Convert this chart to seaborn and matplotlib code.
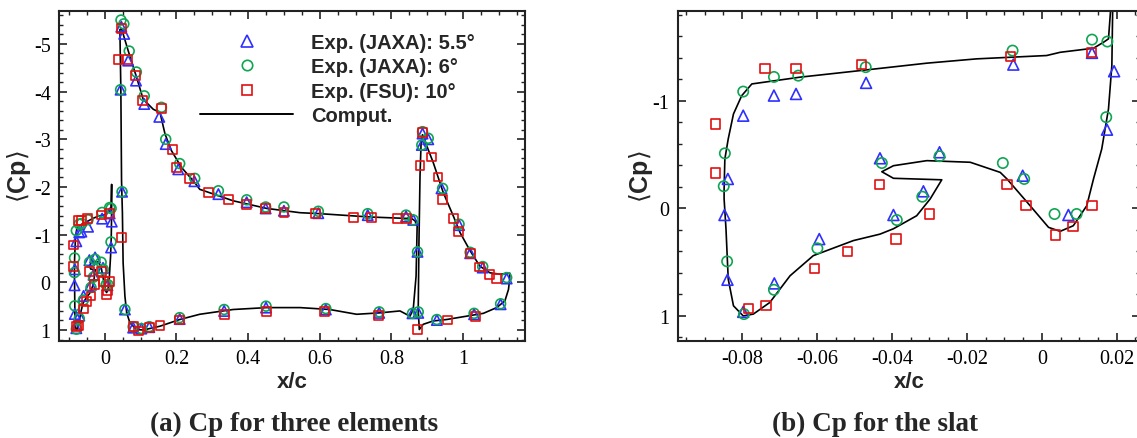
import numpy as np
import pandas as pd
import matplotlib
matplotlib.use("Agg")
import matplotlib.pyplot as plt
import seaborn as sns
from matplotlib.lines import Line2D
from matplotlib.ticker import MultipleLocator, FixedLocator, FixedFormatter

# ---------------- data ----------------
# Slat (shared by both panels)
fsu10_slat_x = [-0.0870, -0.0870, -0.0739, -0.0656, -0.0481, -0.0083, 0.0132, -0.0434, -0.0093, -0.0300,
                -0.0389, -0.0042, 0.0036, 0.0083, 0.0134, -0.0519, -0.0607, -0.0736, -0.0782]
fsu10_slat_cp = [-0.784, -0.328, -1.297, -1.297, -1.333, -1.414, -1.445, -0.220, -0.220, 0.053,
                 0.286, -0.024, 0.248, 0.171, -0.024, 0.404, 0.558, 0.900, 0.930]
jaxa6_slat_x = [-0.0846, -0.0849, -0.0797, -0.0715, -0.0650, -0.0470, -0.0078, 0.0134, 0.0175, 0.0172,
                -0.0104, -0.0047, -0.0273, -0.0427, -0.0319, -0.0387, 0.0034, 0.0093, -0.0599, -0.0715,
                -0.0795, -0.0840]
jaxa6_slat_cp = [-0.511, -0.205, -1.085, -1.221, -1.233, -1.312, -1.466, -1.568, -1.550, -0.847,
                 -0.421, -0.273, -0.484, -0.421, -0.108, 0.109, 0.053, 0.053, 0.372, 0.757,
                 0.983, 0.493]
jaxa55_slat_x = [-0.0797, -0.0715, -0.0656, -0.0469, -0.0838, -0.0076, 0.0134, 0.0193, 0.0174, -0.0051,
                 -0.0273, -0.0432, -0.0316, -0.0396, 0.0071, -0.0847, -0.0839, -0.0714, -0.0594, -0.0797]
jaxa55_slat_cp = [-0.861, -1.048, -1.063, -1.166, -0.273, -1.336, -1.445, -1.274, -0.731, -0.303,
                  -0.521, -0.465, -0.158, 0.062, 0.062, 0.062, 0.664, 0.698, 0.286, 0.962]

# Main element + flap
jaxa55_mf_x = [0.046, 0.054, 0.065, 0.087, 0.110, 0.152, 0.170, 0.205, 0.250, 0.317,
               0.396, 0.449, 0.500, 0.596, 0.734, 0.841, 0.861, 0.044, 0.048, 0.873, 0.859,
               0.056, 0.079, 0.102, 0.124, 0.209, 0.333, 0.450, 0.617, 0.766,
               0.887, 0.903, 0.885, 0.940, 0.989, 1.020, 1.055, 1.122, 1.105, 1.031, 0.927, 0.875]
jaxa55_mf_cp = [-5.36, -5.21, -4.65, -4.23, -3.74, -3.47, -2.90, -2.37, -2.12, -1.85,
                -1.68, -1.55, -1.50, -1.45, -1.41, -1.38, -1.31, -4.04, -1.90, -0.64, 0.65,
                0.57, 0.95, 0.97, 0.94, 0.77, 0.60, 0.53, 0.57, 0.64,
                -3.12, -3.00, -2.88, -1.97, -1.20, -0.61, -0.31, -0.08, 0.46, 0.67, 0.79, 0.64]
jaxa6_mf_x = [0.045, 0.053, 0.068, 0.088, 0.110, 0.158, 0.170, 0.209, 0.251, 0.317,
              0.396, 0.449, 0.500, 0.596, 0.734, 0.841, 0.861, 0.044, 0.048, 0.873, 0.859,
              0.056, 0.079, 0.102, 0.124, 0.209, 0.333, 0.450, 0.617, 0.766,
              0.887, 0.903, 0.885, 0.943, 0.989, 1.020, 1.055, 1.122, 1.105, 1.031, 0.927, 0.875]
jaxa6_mf_cp = [-5.50, -5.42, -4.85, -4.41, -3.91, -3.67, -3.00, -2.49, -2.18, -1.92,
               -1.73, -1.58, -1.58, -1.49, -1.44, -1.41, -1.31, -4.04, -1.90, -0.64, 0.65,
               0.57, 0.93, 0.97, 0.93, 0.74, 0.57, 0.50, 0.55, 0.62,
               -3.16, -3.02, -2.88, -1.97, -1.22, -0.63, -0.33, -0.10, 0.45, 0.65, 0.78, 0.62]
fsu10_mf_x = [0.047, 0.037, 0.063, 0.086, 0.105, 0.158, 0.189, 0.200, 0.237, 0.289,
              0.345, 0.396, 0.449, 0.500, 0.589, 0.694, 0.745, 0.817, 0.843, 0.047,
              0.079, 0.093, 0.124, 0.154, 0.209, 0.333, 0.452, 0.613, 0.763,
              0.887, 0.880, 0.911, 0.930, 0.943, 0.973, 0.987, 1.020, 1.045, 1.073, 1.094,
              1.036, 0.957, 0.872]
fsu10_mf_cp = [-5.32, -4.68, -4.68, -4.34, -3.82, -3.65, -2.79, -2.41, -2.18, -1.88,
               -1.74, -1.64, -1.55, -1.46, -1.44, -1.36, -1.36, -1.34, -1.34, -0.94,
               0.93, 1.02, 0.95, 0.90, 0.79, 0.67, 0.62, 0.62, 0.69,
               -3.14, -2.45, -2.63, -2.21, -1.74, -1.34, -1.06, -0.61, -0.32, -0.17, -0.08,
               0.71, 0.79, 0.99]

# Computation (closed contours)
comp_slat_x = [0.0188, 0.0178, 0.0165, 0.0138, 0.0049, 0.0013, -0.0174, -0.0307, -0.0485, -0.0645,
               -0.0774, -0.0801, -0.0823, -0.0837, -0.0846, -0.0848, -0.0848, -0.0843, -0.0837, -0.0823,
               -0.0797, -0.0770, -0.0726, -0.0672, -0.0610, -0.0503, -0.0432, -0.0396, -0.0334, -0.0298,
               -0.0267, -0.0396, -0.0427, -0.0396, -0.0307, -0.0191, -0.0111, -0.0093, -0.0040, 0.0018,
               0.0049, 0.0084, 0.0120, 0.0129, 0.0138, 0.0160, 0.0178, 0.0187, 0.0190]
comp_slat_cp = [-2.05, -1.575, -1.544, -1.488, -1.45, -1.42, -1.389, -1.349, -1.28, -1.219,
                -1.156, -1.047, -0.877, -0.645, -0.459, -0.18, -0.087, 0.19, 0.658, 0.906,
                1.0, 0.983, 0.875, 0.627, 0.44, 0.30, 0.24, 0.19, 0.069, -0.087,
                -0.265, -0.279, -0.34, -0.396, -0.443, -0.428, -0.334, -0.273, -0.06, 0.177,
                0.214, 0.162, -0.024, -0.149, -0.273, -0.552, -0.924, -1.327, -2.05]
comp_main_x = [0.061, 0.070, 0.0885, 0.107, 0.154, 0.209, 0.265, 0.358, 0.452, 0.545,
               0.628, 0.703, 0.768, 0.824, 0.852, 0.861, 0.869, 0.872, 0.866, 0.852,
               0.843, 0.740, 0.600, 0.545, 0.452, 0.358, 0.265, 0.251, 0.214, 0.186,
               0.168, 0.154, 0.135, 0.107, 0.0885, 0.065, 0.0466, 0.042, 0.0447, 0.0466,
               0.049, 0.051, 0.056, 0.061]
comp_main_cp = [0.64, 0.85, 0.99, 1.0, 0.92, 0.78, 0.67, 0.57, 0.53, 0.53,
                0.57, 0.67, 0.64, 0.60, 0.71, 0.57, -0.13, -1.18, -1.29, -1.36,
                -1.34, -1.37, -1.44, -1.46, -1.55, -1.71, -1.95, -2.09, -2.41, -2.76,
                -3.11, -3.56, -3.63, -3.84, -4.30, -4.86, -5.32, -5.30, -4.02, -2.13,
                -1.46, -0.41, 0.29, 0.64]
comp_flap_x = [0.887, 0.917, 0.945, 0.973, 0.992, 1.020, 1.047, 1.075, 1.103, 1.131,
               1.130, 1.127, 1.117, 1.094, 1.057, 1.010, 0.954, 0.917, 0.889, 0.878,
               0.875, 0.877, 0.880, 0.883, 0.887]
comp_flap_cp = [-3.09, -2.51, -1.88, -1.39, -1.04, -0.66, -0.34, -0.20, -0.17, -0.19,
                -0.05, 0.15, 0.39, 0.53, 0.65, 0.71, 0.78, 0.81, 0.88, 0.99,
                0.57, -0.83, -2.23, -2.93, -3.09]

legend_labels = ["Exp. (JAXA): 5.5°", "Exp. (JAXA): 6°", "Exp. (FSU): 10°", "Comput."]
left_xticks = [0, 0.2, 0.4, 0.6, 0.8, 1]
left_xticklabels = ["0", "0.2", "0.4", "0.6", "0.8", "1"]
left_yticks = [-5, -4, -3, -2, -1, 0, 1]
left_yticklabels = ["-5", "-4", "-3", "-2", "-1", "0", "1"]
right_xticks = [-0.08, -0.06, -0.04, -0.02, 0, 0.02]
right_xticklabels = ["-0.08", "-0.06", "-0.04", "-0.02", "0", "0.02"]
right_yticks = [-1, 0, 1]
right_yticklabels = ["-1", "0", "1"]
captions = ["(a) Cp for three elements", "(b) Cp for the slat"]

# ---------------- style ----------------
sns.set_theme(style="ticks")
plt.rcParams["font.family"] = ["Liberation Sans", "DejaVu Sans"]
plt.rcParams["axes.unicode_minus"] = False
plt.rcParams["axes.edgecolor"] = "#222222"
plt.rcParams["axes.linewidth"] = 1.5

C_TRI = "#2f2fff"
C_CIR = "#0fa552"
C_SQR = "#e01010"

fig = plt.figure(figsize=(11.37, 4.39), dpi=100)
axL = fig.add_axes([0.0519, 0.2210, 0.4098, 0.7517])
axR = fig.add_axes([0.5960, 0.2210, 0.4066, 0.7517])


def scat(ax, x, y, marker, color, s):
    sns.scatterplot(x=x, y=y, marker=marker, s=s, facecolor="none", edgecolor=color,
                    linewidth=1.2, ax=ax, zorder=3)


def comp(ax, x, y):
    sns.lineplot(x=x, y=y, sort=False, estimator=None, color="black", linewidth=1.2,
                 ax=ax, zorder=2)


# left panel
for cx, cy in [(comp_slat_x, comp_slat_cp), (comp_main_x, comp_main_cp), (comp_flap_x, comp_flap_cp)]:
    comp(axL, cx, cy)
scat(axL, jaxa55_slat_x + jaxa55_mf_x, jaxa55_slat_cp + jaxa55_mf_cp, "^", C_TRI, 56)
scat(axL, jaxa6_slat_x + jaxa6_mf_x, jaxa6_slat_cp + jaxa6_mf_cp, "o", C_CIR, 50)
scat(axL, fsu10_slat_x + fsu10_mf_x, fsu10_slat_cp + fsu10_mf_cp, "s", C_SQR, 40)

# right panel
comp(axR, comp_slat_x, comp_slat_cp)
scat(axR, jaxa55_slat_x, jaxa55_slat_cp, "^", C_TRI, 62)
scat(axR, jaxa6_slat_x, jaxa6_slat_cp, "o", C_CIR, 55)
scat(axR, fsu10_slat_x, fsu10_slat_cp, "s", C_SQR, 44)

axL.set_xlim(-0.128, 1.173)
axL.set_ylim(1.23, -5.69)
axR.set_xlim(-0.0972, 0.0262)
axR.set_ylim(1.233, -1.834)

for ax, xt, xtl, yt, ytl, xmin, ymin in [
    (axL, left_xticks, left_xticklabels, left_yticks, left_yticklabels, 0.05, 0.2),
    (axR, right_xticks, right_xticklabels, right_yticks, right_yticklabels, 0.005, 0.2),
]:
    ax.xaxis.set_major_locator(FixedLocator(xt))
    ax.xaxis.set_major_formatter(FixedFormatter(xtl))
    ax.yaxis.set_major_locator(FixedLocator(yt))
    ax.yaxis.set_major_formatter(FixedFormatter(ytl))
    ax.xaxis.set_minor_locator(MultipleLocator(xmin))
    ax.yaxis.set_minor_locator(MultipleLocator(ymin))
    ax.tick_params(which="both", direction="in", top=True, right=True, colors="#222222",
                   labelcolor="black")
    ax.tick_params(which="major", length=6, width=1.2, pad=6)
    ax.tick_params(which="minor", length=3, width=1.0)
    for lab in ax.get_xticklabels() + ax.get_yticklabels():
        lab.set_family("Liberation Serif")
        lab.set_fontsize(14.5)
    ax.set_xlabel("x/c", fontsize=16, fontweight="bold")
    ax.set_ylabel(r"$\langle$Cp$\rangle$", fontsize=18, fontweight="bold")
    for sp in ax.spines.values():
        sp.set_visible(True)

axL.xaxis.set_label_coords(0.5, -0.09)
axR.xaxis.set_label_coords(0.5, -0.09)
axL.yaxis.set_label_coords(-0.055, 0.5)
axR.yaxis.set_label_coords(-0.05, 0.5)

handles = [
    Line2D([], [], marker="^", ls="none", mfc="none", mec=C_TRI, ms=8, mew=1.2),
    Line2D([], [], marker="o", ls="none", mfc="none", mec=C_CIR, ms=7.5, mew=1.2),
    Line2D([], [], marker="s", ls="none", mfc="none", mec=C_SQR, ms=6.6, mew=1.2),
    Line2D([], [], color="black", lw=1.4),
]
leg = axL.legend(handles, legend_labels, loc="upper left", bbox_to_anchor=(0.303, 0.933),
                 frameon=False, handlelength=4.6, handletextpad=0.9, labelspacing=0.26,
                 borderpad=0, borderaxespad=0,
                 prop={"family": "Liberation Sans", "weight": "bold", "size": 14.5})

fig.text(294 / 1137, 1 - 424 / 439, captions[0], ha="center", va="center",
         family="Liberation Serif", fontweight="bold", fontsize=19.5)
fig.text(875 / 1137, 1 - 424 / 439, captions[1], ha="center", va="center",
         family="Liberation Serif", fontweight="bold", fontsize=19.5)

fig.savefig("out.png", dpi=100)
